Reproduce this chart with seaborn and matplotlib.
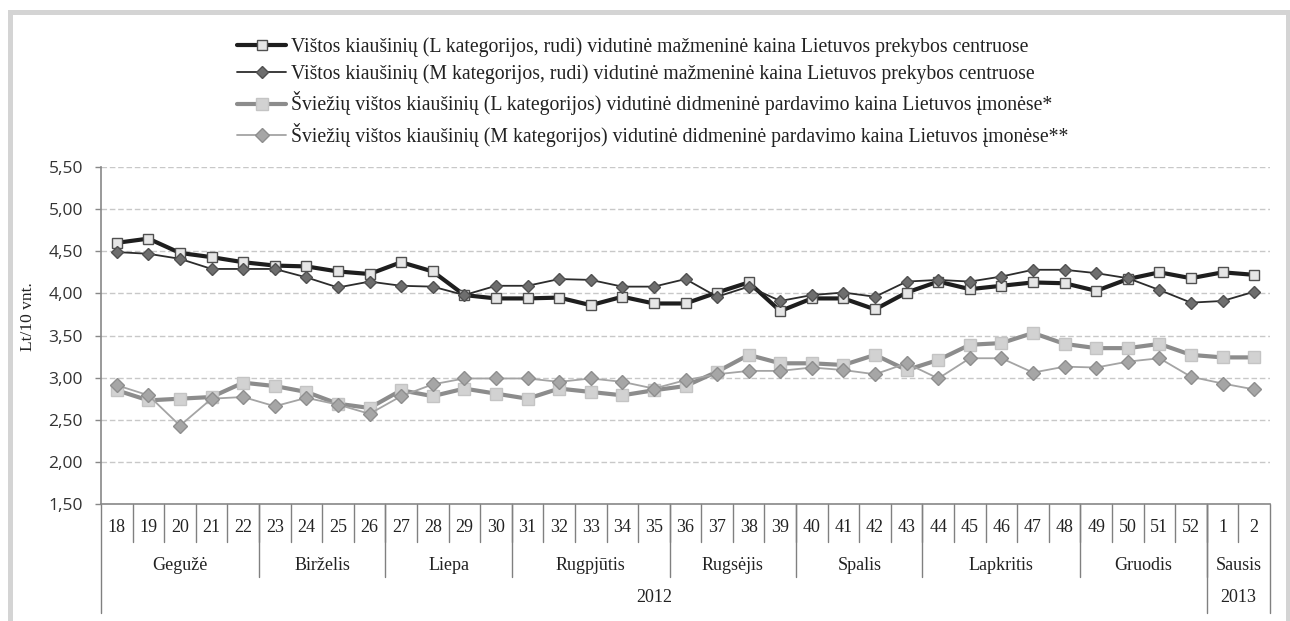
import matplotlib
matplotlib.use('Agg')

import numpy as np
import seaborn as sns
import matplotlib.pyplot as plt
import matplotlib.transforms as mtransforms
from matplotlib.patches import Rectangle
from matplotlib.ticker import FuncFormatter


sns.set_style("white")
plt.rcParams['font.family'] = ['Liberation Serif', 'DejaVu Serif']

weeks = [18, 19, 20, 21, 22, 23, 24, 25, 26, 27, 28, 29, 30, 31, 32, 33, 34, 35,
         36, 37, 38, 39, 40, 41, 42, 43, 44, 45, 46, 47, 48, 49, 50, 51, 52, 1, 2]
months = ["Gegužė", "Birželis", "Liepa", "Rugpjūtis", "Rugsėjis", "Spalis",
          "Lapkritis", "Gruodis", "Sausis"]
month_weeks = [5, 4, 4, 5, 4, 4, 5, 4, 2]
years = ["2012", "2013"]
year_weeks = [35, 2]

l_retail = [4.60, 4.65, 4.48, 4.43, 4.37, 4.33, 4.32, 4.26, 4.23, 4.37, 4.26, 3.98,
            3.94, 3.94, 3.95, 3.86, 3.96, 3.88, 3.88, 4.01, 4.13, 3.79, 3.94, 3.94,
            3.81, 4.01, 4.14, 4.05, 4.09, 4.13, 4.12, 4.03, 4.17, 4.25, 4.18, 4.25, 4.22]
m_retail = [4.49, 4.47, 4.41, 4.29, 4.29, 4.29, 4.19, 4.07, 4.14, 4.09, 4.08, 3.98,
            4.09, 4.09, 4.17, 4.16, 4.08, 4.08, 4.17, 3.96, 4.08, 3.91, 3.98, 4.01,
            3.96, 4.14, 4.16, 4.14, 4.20, 4.28, 4.28, 4.24, 4.18, 4.04, 3.89, 3.91, 4.02]
l_wholesale = [2.85, 2.73, 2.75, 2.77, 2.94, 2.90, 2.83, 2.69, 2.64, 2.85, 2.78, 2.87,
               2.81, 2.75, 2.87, 2.83, 2.79, 2.85, 2.90, 3.07, 3.27, 3.17, 3.17, 3.15,
               3.27, 3.09, 3.21, 3.39, 3.41, 3.53, 3.40, 3.35, 3.35, 3.40, 3.27, 3.24, 3.24]
m_wholesale = [2.91, 2.79, 2.43, 2.75, 2.77, 2.66, 2.76, 2.68, 2.57, 2.78, 2.92, 2.99,
               2.99, 2.99, 2.95, 2.99, 2.95, 2.87, 2.97, 3.04, 3.08, 3.08, 3.12, 3.09,
               3.04, 3.17, 2.99, 3.23, 3.23, 3.06, 3.13, 3.12, 3.19, 3.23, 3.01, 2.93, 2.86]

labels = [
    "Vištos kiaušinių (L kategorijos, rudi) vidutinė mažmeninė kaina Lietuvos prekybos centruose",
    "Vištos kiaušinių (M kategorijos, rudi) vidutinė mažmeninė kaina Lietuvos prekybos centruose",
    "Šviežių vištos kiaušinių (L kategorijos) vidutinė didmeninė pardavimo kaina Lietuvos įmonėse*",
    "Šviežių vištos kiaušinių (M kategorijos) vidutinė didmeninė pardavimo kaina Lietuvos įmonėse**",
]

W, H = 1290, 621
fig = plt.figure(figsize=(W / 100, H / 100), dpi=100)
ax = fig.add_axes([101 / W, 1 - 504 / H, (1270 - 101) / W, (504 - 167) / H])

x = np.arange(len(weeks))

# series styles: line colour, line width, marker, marker size, face, edge
styles = [
    ("#1e1e1e", 3.0, "s", 6.5, "#e6e6e6", "#505050"),
    ("#2c2c2c", 1.3, "D", 6.5, "#6e6e6e", "#505050"),
    ("#8c8c8c", 3.0, "s", 9.0, "#d2d2d2", "#c4c4c4"),
    ("#a4a4a4", 1.3, "D", 7.0, "#a6a6a6", "#8e8e8e"),
]
series = [l_retail, m_retail, l_wholesale, m_wholesale]

for vals, lab, st in zip(series, labels, styles):
    sns.lineplot(x=x, y=vals, ax=ax, color=st[0], linewidth=st[1], marker=st[2],
                 markersize=st[3], markerfacecolor=st[4], markeredgecolor=st[5],
                 markeredgewidth=1.0, label=lab)

ax.set_xlim(-0.5, len(weeks) - 0.5)
ax.set_ylim(1.5, 5.5)
ax.set_yticks(np.arange(1.5, 5.51, 0.5))
ax.yaxis.set_major_formatter(FuncFormatter(lambda v, p: ("%.2f" % v).replace(".", ",")))
ax.set_xticks([])
for t in ax.get_yticklabels():
    t.set_family(['Open Sans', 'DejaVu Sans'])
    t.set_fontsize(12.5)
    t.set_color("#333333")
ax.tick_params(axis='y', length=4, width=1, color="#888888", pad=9, left=True)
ax.grid(axis='y', color="#c8c8c8", linestyle=(0, (4, 2)), linewidth=1)
for s in ["top", "right"]:
    ax.spines[s].set_visible(False)
ax.spines["left"].set_color("#888888")
ax.spines["bottom"].set_color("#888888")
ax.spines["left"].set_linewidth(1.2)
ax.spines["bottom"].set_linewidth(1.2)
ax.set_xlabel("")
ax.set_ylabel("")

fig.text(28 / W, 1 - 317 / H, "Lt/10 vnt.", rotation=90, ha="center", va="center",
         fontsize=12.5, color="#222222")

# multi-level x axis table
trans = mtransforms.blended_transform_factory(ax.transData, ax.transAxes)
ah = 504 - 167
y_week = -(542 - 504) / ah
y_month = -(577 - 504) / ah
y_year = -(613 - 504) / ah
line_kw = dict(color="#808080", linewidth=1, transform=trans, clip_on=False)

for i, w in enumerate(weeks):
    ax.text(i, -(528 - 504) / ah, str(w), transform=trans, ha="center", va="center",
            fontsize=13, color="#222222")
    if i > 0:
        ax.plot([i - 0.5, i - 0.5], [0, y_week], **line_kw)

start = 0
for m, n in zip(months, month_weeks):
    ax.text(start + n / 2 - 0.5, -(565 - 504) / ah, m, transform=trans, ha="center",
            va="center", fontsize=13, color="#222222")
    start += n
    if start < len(weeks):
        ax.plot([start - 0.5, start - 0.5], [0, y_month], **line_kw)

start = 0
for yname, n in zip(years, year_weeks):
    ax.text(start + n / 2 - 0.5, -(598 - 504) / ah, yname, transform=trans, ha="center",
            va="center", fontsize=13, color="#222222")
    start += n
    ax.plot([start - 0.5, start - 0.5], [0, y_year], **line_kw)
ax.plot([-0.5, -0.5], [0, y_year], **line_kw)

leg = ax.legend(loc="upper left", bbox_to_anchor=(237 / W, 1 - 37 / H),
                bbox_transform=fig.transFigure, frameon=False, fontsize=14.2,
                handlelength=2.5, handletextpad=0.25, labelspacing=0.38,
                borderaxespad=0, borderpad=0)
for t in leg.get_texts():
    t.set_color("#222222")

fig.patches.append(Rectangle((10 / W, -0.1), (1288 - 10) / W, 1.1 - 12 / H,
                             transform=fig.transFigure, fill=False,
                             edgecolor="#d4d4d4", linewidth=3.6))

fig.savefig("out.png", dpi=100)
